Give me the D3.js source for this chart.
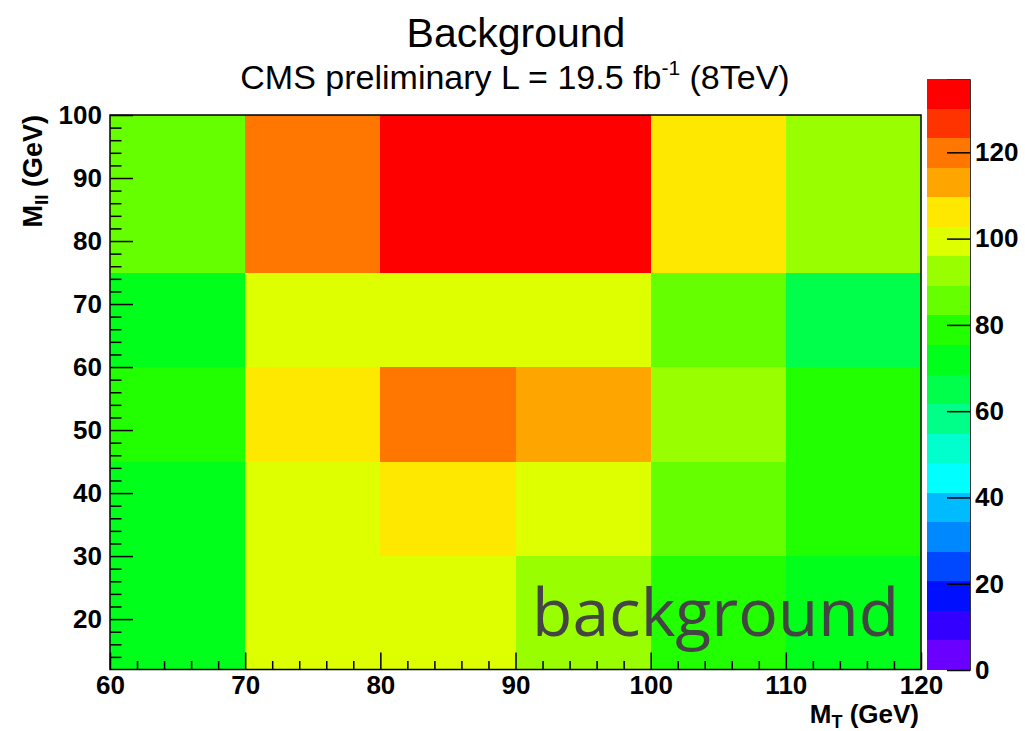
<!DOCTYPE html>
<html>
<head>
<meta charset="utf-8">
<script src="https://cdn.jsdelivr.net/npm/d3@7"></script>
<style>
  body { margin: 0; background: #fff; }
  text { font-family: "Liberation Sans", Arial, Helvetica, sans-serif; }
  .axis text { font-weight: bold; font-size: 26px; fill: #000; }
  .axis line { stroke: #000; stroke-width: 1.5; }
</style>
</head>
<body>
<div id="chart"></div>
<script>
var ctx = {
    w: 1025,
    h: 731
};

// bin edges of the 2D histogram
var xEdges = [60, 70, 80, 90, 100, 110, 120];
var yEdges = [12, 30, 45, 60, 75, 100];

// bin contents, one array per M_ll row (low to high), columns follow xEdges
var row12to30 = [72, 99, 98, 92, 79, 73];
var row30to45 = [72, 100, 106, 99, 86, 79];
var row45to60 = [79, 105, 120, 113, 92, 80];
var row60to75 = [72, 100, 101, 99, 85, 65];
var row75to100 = [86, 121, 137, 135, 107, 93];

var xTicks = [60, 70, 80, 90, 100, 110, 120];
var yTicks = [20, 30, 40, 50, 60, 70, 80, 90, 100];
var zTicks = [0, 20, 40, 60, 80, 100, 120];
var zMax = 137;

// ROOT style palette, 20 contour levels
var palette = ["#6a00ff", "#3300ff", "#0010ff", "#0048ff", "#0088ff",
    "#00bbff", "#00ffff", "#00ffcc", "#00ff88", "#00ff4a",
    "#00ff1a", "#22ff00", "#66ff00", "#99ff00", "#ddff00",
    "#ffe800", "#ffa500", "#ff7700", "#ff3300", "#ff0000"];

var createChart = function (svg) {
    var rows = [row12to30, row30to45, row45to60, row60to75, row75to100];
    var cells = [];
    for (var j = 0; j < rows.length; j++) {
        for (var i = 0; i < rows[j].length; i++) {
            cells.push({
                x0: xEdges[i], x1: xEdges[i + 1],
                y0: yEdges[j], y1: yEdges[j + 1],
                value: rows[j][i]
            });
        }
    }

    var x = d3.scaleLinear().domain([60, 120]).range([110, 921]);
    var y = d3.scaleLinear().domain([12, 100]).range([669.5, 115]);
    var z = d3.scaleLinear().domain([0, zMax]).range([670, 79]);
    var color = d3.scaleQuantize().domain([0, zMax]).range(palette);

    svg.selectAll("rect.cell")
        .data(cells)
        .enter().append("rect")
        .attr("class", "cell")
        .attr("x", function (d) { return x(d.x0); })
        .attr("y", function (d) { return y(d.y1); })
        .attr("width", function (d) { return x(d.x1) - x(d.x0); })
        .attr("height", function (d) { return y(d.y0) - y(d.y1); })
        .attr("fill", function (d) { return color(d.value); })
        .attr("shape-rendering", "crispEdges");

    // watermark
    svg.append("text")
        .attr("x", 532)
        .attr("y", 636)
        .style("font-family", "'Open Sans', sans-serif")
        .style("font-size", "66px")
        .style("fill", "#444")
        .text("background");

    // minor ticks
    var xMinor = d3.range(60, 120.1, 2).filter(function (v) { return v % 10 != 0; });
    var yMinor = d3.range(14, 100.1, 2).filter(function (v) { return v % 10 != 0; });

    svg.append("g")
        .attr("class", "axis")
        .attr("transform", "translate(0,669.5)")
        .call(d3.axisBottom(x).tickValues(xMinor).tickSize(-8.5).tickFormat(""))
        .call(function (g) { g.select(".domain").remove(); });
    svg.append("g")
        .attr("class", "axis")
        .attr("transform", "translate(0,669.5)")
        .call(d3.axisBottom(x).tickValues(xTicks).tickSize(-17).tickPadding(10))
        .call(function (g) { g.select(".domain").remove(); })
        .selectAll("text").attr("dy", "0.71em").attr("y", 6);

    svg.append("g")
        .attr("class", "axis")
        .attr("transform", "translate(110,0)")
        .call(d3.axisLeft(y).tickValues(yMinor).tickSize(-11.5).tickFormat(""))
        .call(function (g) { g.select(".domain").remove(); });
    svg.append("g")
        .attr("class", "axis")
        .attr("transform", "translate(110,0)")
        .call(d3.axisLeft(y).tickValues(yTicks).tickSize(-23).tickPadding(8))
        .call(function (g) { g.select(".domain").remove(); })
        .selectAll("text").attr("x", -8);

    // frame
    svg.append("rect")
        .attr("x", 110).attr("y", 115)
        .attr("width", 811).attr("height", 554.5)
        .attr("fill", "none")
        .attr("stroke", "#000")
        .attr("stroke-width", 1.5);

    // palette
    var levels = palette.map(function (c, i) {
        return { lo: i * zMax / palette.length, hi: (i + 1) * zMax / palette.length, c: c };
    });
    svg.selectAll("rect.level")
        .data(levels)
        .enter().append("rect")
        .attr("class", "level")
        .attr("x", 927)
        .attr("y", function (d) { return z(d.hi); })
        .attr("width", 43)
        .attr("height", function (d) { return z(d.lo) - z(d.hi); })
        .attr("fill", function (d) { return d.c; })
        .attr("shape-rendering", "crispEdges");

    svg.append("g")
        .attr("class", "axis")
        .attr("transform", "translate(970,0)")
        .call(d3.axisRight(z).tickValues(zTicks).tickSize(-23).tickPadding(5))
        .call(function (g) { g.select(".domain").attr("stroke", "#333").attr("stroke-width", 1); })
        .selectAll("text").attr("x", 5);

    // titles
    svg.append("text")
        .attr("x", 516).attr("y", 47)
        .attr("text-anchor", "middle")
        .style("font-size", "41px")
        .text("Background");

    var sub = svg.append("text")
        .attr("x", 515).attr("y", 89)
        .attr("text-anchor", "middle")
        .style("font-size", "34px");
    sub.append("tspan").text("CMS preliminary L = 19.5 fb");
    sub.append("tspan").attr("dy", -14).style("font-size", "21px").text("-1");
    sub.append("tspan").attr("dy", 14).text(" (8TeV)");

    var xt = svg.append("text")
        .attr("x", 919).attr("y", 723)
        .attr("text-anchor", "end")
        .style("font-size", "26px")
        .style("font-weight", "bold");
    xt.append("tspan").text("M");
    xt.append("tspan").attr("dy", 5).style("font-size", "18px").text("T");
    xt.append("tspan").attr("dy", -5).text(" (GeV)");

    var yt = svg.append("text")
        .attr("transform", "translate(42,115) rotate(-90)")
        .attr("text-anchor", "end")
        .style("font-size", "27px")
        .style("font-weight", "bold");
    yt.append("tspan").text("M");
    yt.append("tspan").attr("dy", 6).style("font-size", "19px").text("ll");
    yt.append("tspan").attr("dy", -6).text(" (GeV)");
};

var createViz = function () {
    var svg = d3.select("#chart").append("svg")
        .attr("width", ctx.w)
        .attr("height", ctx.h);
    createChart(svg);
};

createViz();
</script>
</body>
</html>
